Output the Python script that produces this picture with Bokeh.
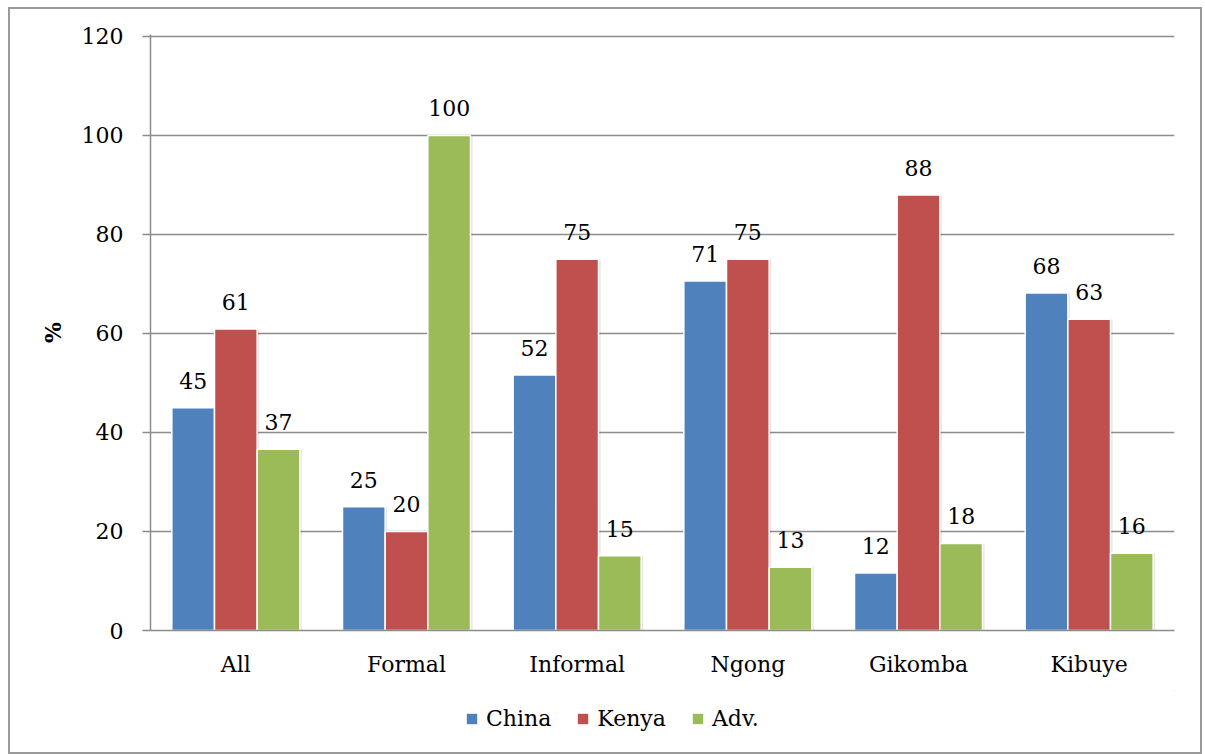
from bokeh.plotting import figure
from bokeh.models import ColumnDataSource, FactorRange, LabelSet, Legend, LegendItem, Range1d
from bokeh.layouts import column
from bokeh.core.properties import value
from bokeh.transform import dodge
from bokeh.embed import file_html
from bokeh.resources import INLINE

categories = ["All", "Formal", "Informal", "Ngong", "Gikomba", "Kibuye"]
china = [45, 25, 51.6, 70.6, 11.6, 68.2]
kenya = [60.9, 20, 75, 75, 88, 62.9]
adv = [36.6, 100, 15.1, 12.8, 17.6, 15.6]
series_names = ["China", "Kenya", "Adv."]
colors = ["#4F81BD", "#C0504D", "#9BBB59"]
y_ticks = [0, 20, 40, 60, 80, 100, 120]

FONT = "DejaVu Serif"
FS = "22px"

src = ColumnDataSource(dict(
    cat=categories,
    china=china, kenya=kenya, adv=adv,
    china_lbl=[f"{v:.0f}" for v in china],
    kenya_lbl=[f"{v:.0f}" for v in kenya],
    adv_lbl=[f"{v:.0f}" for v in adv],
))

p = figure(x_range=FactorRange(*categories), y_range=Range1d(0, 120.4),
           frame_width=1024, frame_height=596, output_backend="svg", toolbar_location=None,
           min_border_left=140, min_border_right=26, min_border_top=25, min_border_bottom=60)
p.outline_line_color = None
p.background_fill_color = "white"
p.border_fill_color = "white"
p.x_range.range_padding = 0

cols = ["china", "kenya", "adv"]
offsets = [-0.25, 0.0, 0.25]
for col, off in zip(cols, offsets):
    # soft shadow
    p.vbar(x=dodge("cat", off + 0.012, range=p.x_range), top=col, bottom=-0.6, width=0.25,
           source=src, fill_color="#000000", fill_alpha=0.10, line_color=None)
for col, off, c in zip(cols, offsets, colors):
    p.vbar(x=dodge("cat", off, range=p.x_range), top=col, width=0.25, source=src,
           fill_color=c, line_color="white", line_width=1.5)
    lbl = LabelSet(x=dodge("cat", off, range=p.x_range), y=col, text=col + "_lbl", source=src,
                   text_align="center", text_baseline="alphabetic", y_offset=19,
                   text_font=value(FONT), text_font_size=FS, text_color="black")
    p.add_layout(lbl)

# axes
p.yaxis.ticker = y_ticks
p.yaxis.axis_label = "%"
p.yaxis.axis_label_text_font = FONT
p.yaxis.axis_label_text_font_style = "bold"
p.yaxis.axis_label_text_font_size = FS
p.yaxis.axis_label_text_color = "black"
p.yaxis.axis_label_standoff = 13
p.yaxis.major_label_text_font = FONT
p.yaxis.major_label_text_font_size = FS
p.yaxis.major_label_text_color = "black"
p.yaxis.major_label_standoff = 19
p.yaxis.major_tick_out = 8
p.yaxis.major_tick_in = 0
p.yaxis.minor_tick_line_color = None
p.yaxis.axis_line_color = "#8c8c8c"
p.yaxis.axis_line_width = 1.5
p.yaxis.major_tick_line_color = "#8c8c8c"
p.yaxis.major_tick_line_width = 1.5

p.xaxis.major_label_text_font = FONT
p.xaxis.major_label_text_font_size = FS
p.xaxis.major_label_text_color = "black"
p.xaxis.major_label_standoff = 15
p.xaxis.major_tick_line_color = None
p.xaxis.axis_line_color = "#8c8c8c"
p.xaxis.axis_line_width = 1.5

p.xgrid.grid_line_color = None
p.ygrid.grid_line_color = "#8c8c8c"
p.ygrid.grid_line_width = 1.5

# legend strip below the chart
lg = figure(width=1190, height=62, x_range=Range1d(0, 1), y_range=Range1d(0, 1),
            output_backend="svg", toolbar_location=None, x_axis_type=None, y_axis_type=None,
            min_border=0)
lg.outline_line_color = None
lg.border_fill_color = "white"
lg.background_fill_color = "white"
offscreen = ColumnDataSource(dict(x=[5], top=[5], bottom=[4]))
leg_renderers = [lg.vbar(x="x", top="top", bottom="bottom", width=0.1, source=offscreen,
                         fill_color=c, line_color=None)
                 for c in colors]
legend = Legend(items=[LegendItem(label=n, renderers=[r]) for n, r in zip(series_names, leg_renderers)],
                orientation="horizontal", location=(315, 21),
                label_text_font=FONT, label_text_font_size=FS, label_text_color="black",
                glyph_width=13, glyph_height=13, label_standoff=8, spacing=25,
                border_line_color=None, background_fill_alpha=0, padding=4, margin=0)
lg.add_layout(legend, "center")

layout = column(p, lg, spacing=0)
layout.styles = {"border": "2px solid #9a9a9a", "margin": "7px 0 0 8px"}

open("out.html", "w").write(file_html(layout, INLINE))
